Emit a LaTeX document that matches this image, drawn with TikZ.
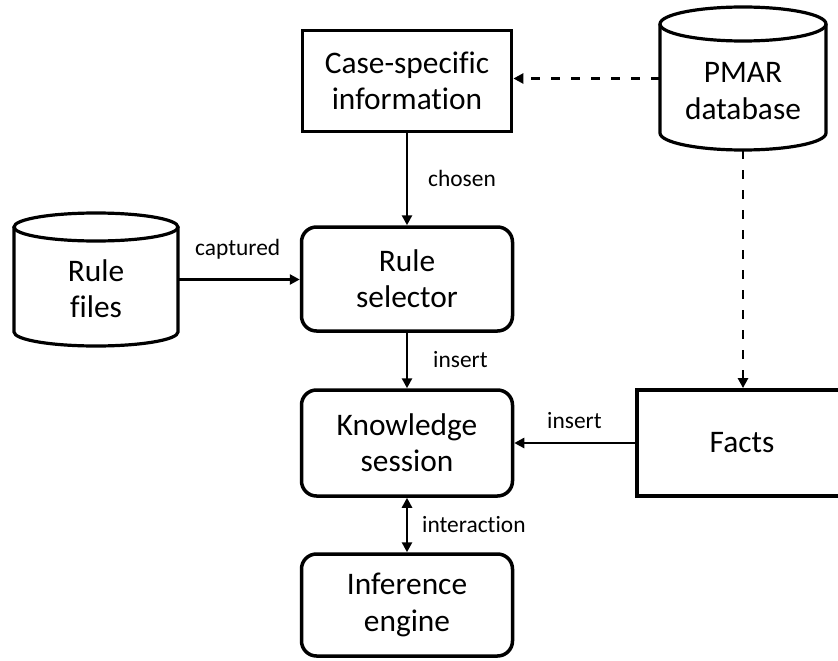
\documentclass[tikz,border=0pt]{standalone}
\usepackage{fontspec}
\setmainfont[Ligatures=NoCommon]{Carlito}
\usetikzlibrary{arrows.meta}
\begin{document}
\begin{tikzpicture}[x=1bp,y=-1bp,
  mainfont/.style={font=\fontsize{31.5}{36.5}\selectfont},
  lbl/.style={font=\fontsize{23.5}{27}\selectfont, anchor=base west, inner sep=0pt},
  sqbox/.style={draw, line width=3.8bp, mainfont, align=center, inner sep=0pt},
  rbox/.style={draw, line width=3.5bp, rounded corners=15bp, mainfont, align=center, inner sep=0pt,
    minimum width=211bp},
  cyl/.style={line width=3.2bp},
  ghost/.style={draw=none, inner sep=0pt},
  arr/.style={line width=2.7bp, -{Triangle[length=10bp,width=10bp]}},
  darr/.style={line width=2.7bp, {Triangle[length=10bp,width=10bp]}-{Triangle[length=10bp,width=10bp]}},
  dash arr/.style={arr, dash pattern=on 9bp off 11bp}
]
\useasboundingbox (0,0) rectangle (838,661);

% boxes
\node[sqbox, minimum width=209bp, minimum height=101bp] (case) at (407,81) {Case-specific\\information};
\node[rbox, minimum height=104bp] (rulesel) at (407,279) {Rule\\selector};
\node[rbox, minimum height=106bp] (know) at (407,443) {Knowledge\\session};
\node[rbox, minimum height=102bp] (infer) at (407,605) {Inference\\engine};
\begin{scope}
  \clip (0,0) rectangle (838,661);
  \node[sqbox, minimum width=210bp, minimum height=106bp] (facts) at (742,443) {Facts};
\end{scope}

% Rule files cylinder
\draw[cyl] (96,227) ellipse [x radius=82bp, y radius=14bp];
\draw[cyl] (14,227) -- (14,332) arc[start angle=180, end angle=360, x radius=82bp, y radius=14bp] -- (178,227);
\node[ghost, minimum width=164bp, minimum height=133bp] (rulefiles) at (96,279.5) {};
\node[ghost, mainfont, align=center] (rulefilestext) at (96,289) {Rule\\files};

% PMAR cylinder
\draw[cyl] (743,24) ellipse [x radius=83bp, y radius=17bp];
\draw[cyl] (660,24) -- (660,133) arc[start angle=180, end angle=360, x radius=83bp, y radius=17bp] -- (826,24);
\node[ghost, minimum width=166bp, minimum height=143bp] (pmar) at (743,78.5) {};
\node[ghost, mainfont, align=center] (pmartext) at (743,91) {PMAR\\database};

% connectors
\draw[dash arr] (pmar.west) -- (case.east |- pmar.west);
\draw[dash arr] (pmar.south) -- (pmar.south |- facts.north);
\draw[arr] (case.south) -- (rulesel.north);
\draw[arr] (rulefiles.east) -- (rulesel.west |- rulefiles.east);
\draw[arr] (rulesel.south) -- (know.north);
\draw[arr] (facts.west) -- (know.east);
\draw[darr] (know.south) -- (infer.north);

% labels
\node[lbl] (lchosen) at (428,186) {chosen};
\node[lbl] (lcaptured) at (195,255) {captured};
\node[lbl] (linsert1) at (433,367) {insert};
\node[lbl] (linsert2) at (547,428) {insert};
\node[lbl] (linter) at (422,532) {interaction};
\end{tikzpicture}
\end{document}
